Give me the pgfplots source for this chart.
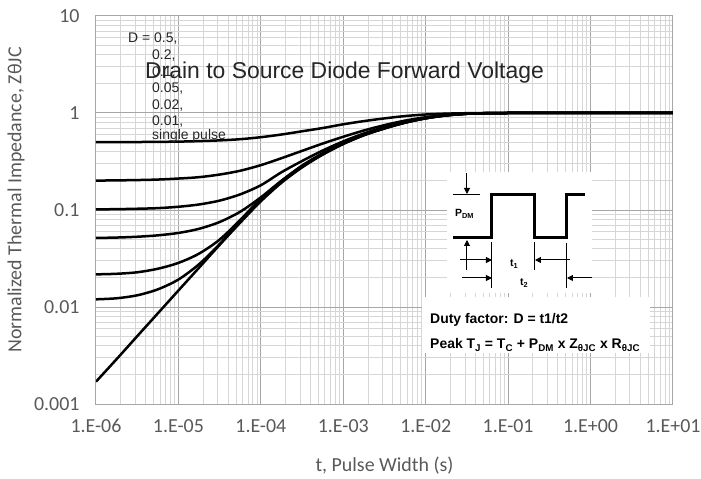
\documentclass[border=0pt]{standalone}
\usepackage{fontspec}
\setmainfont{Carlito}
\newfontfamily\arial{Liberation Sans}
\usepackage{pgfplots}
\pgfplotsset{compat=1.18}
\usetikzlibrary{arrows.meta}

\definecolor{gridmaj}{RGB}{166,166,166}
\definecolor{gridmin}{RGB}{214,214,214}
\definecolor{txtgray}{RGB}{89,89,89}

\pgfplotsset{zcurve/.style={black, solid, line width=2.5bp, smooth, tension=0.5, mark=none}}

\begin{document}
\begin{tikzpicture}
\useasboundingbox (-96bp,-75bp) rectangle (605bp,404bp);
\begin{axis}[
  scale only axis, width=577bp, height=388bp,
  xmode=log, ymode=log,
  xmin=1e-6, xmax=10, ymin=1e-3, ymax=10,
  grid=both,
  major grid style={gridmaj, line width=1bp},
  minor grid style={gridmin, line width=1bp},
  axis line style={gridmaj, line width=1bp},
  tick style={draw=none},
  xtick={1e-6,1e-5,1e-4,1e-3,1e-2,1e-1,1,10},
  xticklabels={1.E-06,1.E-05,1.E-04,1.E-03,1.E-02,1.E-01,1.E+00,1.E+01},
  ytick={1e-3,1e-2,1e-1,1,10},
  yticklabels={0.001,0.01,0.1,1,10},
  ticklabel style={font=\fontsize{20}{24}\selectfont, color=txtgray},
  xticklabel style={yshift=-12bp},
  yticklabel style={xshift=-13bp},
  xlabel={t, Pulse Width (s)},
  ylabel={Normalized Thermal Impedance, ZθJC},
  label style={font=\fontsize{20}{24}\selectfont, color=txtgray},
  xlabel style={at={(axis description cs:0.5,-0.158)}, anchor=center},
  ylabel style={at={(axis description cs:-0.1386,0.526)}, anchor=center},
]
% D = 0.5
\addplot[zcurve] table {
1e-6 0.501
1.778e-6 0.501
3.162e-6 0.502
5.623e-6 0.504
1e-5 0.507
1.778e-5 0.513
3.162e-5 0.522
5.623e-5 0.537
1e-4 0.563
1.778e-4 0.600
3.162e-4 0.648
5.623e-4 0.700
1e-3 0.765
1.778e-3 0.825
3.162e-3 0.880
5.623e-3 0.930
1e-2 0.965
1.778e-2 0.985
3.162e-2 0.995
5.623e-2 0.999
1e-1 1.0
10 1.0
};
% D = 0.2
\addplot[zcurve] table {
1e-6 0.201
1.778e-6 0.202
3.162e-6 0.2035
5.623e-6 0.206
1e-5 0.211
1.778e-5 0.218
3.162e-5 0.232
5.623e-5 0.254
1e-4 0.290
1.778e-4 0.342
3.162e-4 0.407
5.623e-4 0.484
1e-3 0.569
1.778e-3 0.660
3.162e-3 0.750
5.623e-3 0.835
1e-2 0.905
1.778e-2 0.955
3.162e-2 0.986
5.623e-2 0.996
1e-1 1.0
10 1.0
};
% D = 0.1
\addplot[zcurve] table {
1e-6 0.1015
1.778e-6 0.102
3.162e-6 0.103
5.623e-6 0.1045
1e-5 0.108
1.778e-5 0.114
3.162e-5 0.125
5.623e-5 0.145
1e-4 0.180
1.778e-4 0.245
3.162e-4 0.320
5.623e-4 0.410
1e-3 0.510
1.778e-3 0.615
3.162e-3 0.715
5.623e-3 0.810
1e-2 0.890
1.778e-2 0.950
3.162e-2 0.984
5.623e-2 0.996
1e-1 1.0
10 1.0
};
% D = 0.05
\addplot[zcurve] table {
1e-6 0.0515
1.778e-6 0.0520
3.162e-6 0.0530
5.623e-6 0.0548
1e-5 0.0580
1.778e-5 0.0640
3.162e-5 0.0752
5.623e-5 0.0960
1e-4 0.135
1.778e-4 0.200
3.162e-4 0.287
5.623e-4 0.385
1e-3 0.492
1.778e-3 0.600
3.162e-3 0.702
5.623e-3 0.801
1e-2 0.886
1.778e-2 0.947
3.162e-2 0.983
5.623e-2 0.996
1e-1 1.0
10 1.0
};
% D = 0.02
\addplot[zcurve] table {
1e-6 0.0217
1.778e-6 0.0220
3.162e-6 0.0228
5.623e-6 0.0248
1e-5 0.0285
1.778e-5 0.0355
3.162e-5 0.0495
5.623e-5 0.0790
1e-4 0.131
1.778e-4 0.199
3.162e-4 0.283
5.623e-4 0.379
1e-3 0.486
1.778e-3 0.595
3.162e-3 0.698
5.623e-3 0.798
1e-2 0.883
1.778e-2 0.946
3.162e-2 0.983
5.623e-2 0.995
1e-1 1.0
10 1.0
};
% D = 0.01
\addplot[zcurve] table {
1e-6 0.0120
1.778e-6 0.0123
3.162e-6 0.0132
5.623e-6 0.0152
1e-5 0.0192
1.778e-5 0.0276
3.162e-5 0.0445
5.623e-5 0.0770
1e-4 0.127
1.778e-4 0.195
3.162e-4 0.279
5.623e-4 0.375
1e-3 0.482
1.778e-3 0.592
3.162e-3 0.695
5.623e-3 0.796
1e-2 0.882
1.778e-2 0.945
3.162e-2 0.982
5.623e-2 0.995
1e-1 1.0
10 1.0
};
% single pulse
\addplot[zcurve] table {
1e-6 0.0017
1.778e-6 0.0029
3.162e-6 0.0050
5.623e-6 0.0086
1e-5 0.0148
1.778e-5 0.0254
3.162e-5 0.0437
5.623e-5 0.0741
1e-4 0.123
1.778e-4 0.191
3.162e-4 0.275
5.623e-4 0.372
1e-3 0.479
1.778e-3 0.589
3.162e-3 0.692
5.623e-3 0.794
1e-2 0.881
1.778e-2 0.944
3.162e-2 0.982
5.623e-2 0.995
1e-1 1.0
10 1.0
};
\end{axis}

% annotations, in pixel coordinates of the reference
\begin{scope}[x=1bp, y=-1bp, shift={(-96bp,404bp)}]
  \begin{scope}[font=\arial\fontsize{14}{16}\selectfont, text=black!85]
    \node[anchor=base west, inner sep=0] at (128,43) {D = 0.5,};
    \node[anchor=base west, inner sep=0] at (152,60) {0.2,};
    \node[anchor=base west, inner sep=0] at (152,76.5) {0.1,};
    \node[anchor=base west, inner sep=0] at (152,93) {0.05,};
    \node[anchor=base west, inner sep=0] at (152,109.5) {0.02,};
    \node[anchor=base west, inner sep=0] at (152,125.5) {0.01,};
    \node[anchor=base west, inner sep=0] at (152,140) {single pulse};
  \end{scope}
  \node[anchor=base west, inner sep=0, font=\arial\fontsize{23}{26}\selectfont, text=black!85]
    at (145,79) {Drain to Source Diode Forward Voltage};

  % inset: pulse diagram
  \fill[white] (447,172) rectangle (592,293);
  \fill[white] (422,297) rectangle (650,353);
  \draw[line width=3bp, line join=miter]
    (453,238) -- (492,238) -- (492,195) -- (535,195) -- (535,238)
    -- (567,238) -- (567,195) -- (585,195);
  \begin{scope}[line width=1bp, >={Triangle[length=6bp,width=6bp]}]
    \draw (453,195) -- (480,195);
    \draw[->] (467,173) -- (467,194);
    \draw[->] (467,270) -- (467,240);
    \draw (492,242) -- (492,288);
    \draw (535,242) -- (535,270);
    \draw (567,243) -- (567,288);
    \draw[->] (460,260) -- (492,260);
    \draw[->] (570,260) -- (535,260);
    \draw[->] (462,278) -- (492,278);
    \draw[->] (592,278) -- (567,278);
  \end{scope}
  \begin{scope}[font=\arial\bfseries\fontsize{10.5}{12}\selectfont]
    \node[anchor=base west, inner sep=0] at (455,217) {P\textsubscript{DM}};
    \node[anchor=base west, inner sep=0] at (510,267) {t\textsubscript{1}};
    \node[anchor=base west, inner sep=0] at (520,286) {t\textsubscript{2}};
  \end{scope}
  \begin{scope}[font=\arial\bfseries\fontsize{14}{16}\selectfont]
    \node[anchor=base west, inner sep=0] at (430,324) {Duty factor: D = t1/t2};
    \node[anchor=base west, inner sep=0] at (430,349)
      {Peak T\textsubscript{J} = T\textsubscript{C} + P\textsubscript{DM} x Z\textsubscript{θJC} x R\textsubscript{θJC}};
  \end{scope}
\end{scope}
\end{tikzpicture}
\end{document}
